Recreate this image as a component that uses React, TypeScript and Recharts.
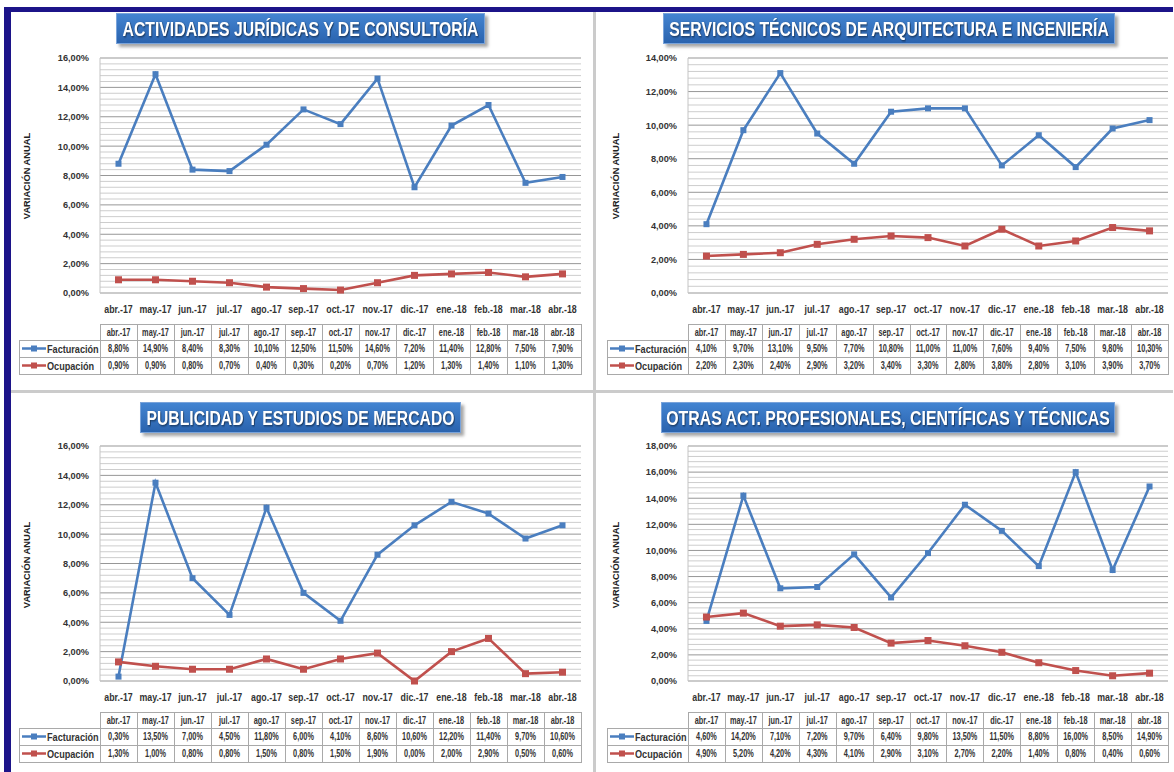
import { useLayoutEffect, useRef, useState } from 'react';
import { LineChart, Line, XAxis, YAxis, CartesianGrid, ReferenceLine } from 'recharts';

const months = ['abr.-17', 'may.-17', 'jun.-17', 'jul.-17', 'ago.-17', 'sep.-17', 'oct.-17', 'nov.-17', 'dic.-17', 'ene.-18', 'feb.-18', 'mar.-18', 'abr.-18'];

const juridicasFacturacion = [8.8, 14.9, 8.4, 8.3, 10.1, 12.5, 11.5, 14.6, 7.2, 11.4, 12.8, 7.5, 7.9];
const juridicasOcupacion = [0.9, 0.9, 0.8, 0.7, 0.4, 0.3, 0.2, 0.7, 1.2, 1.3, 1.4, 1.1, 1.3];

const arquitecturaFacturacion = [4.1, 9.7, 13.1, 9.5, 7.7, 10.8, 11.0, 11.0, 7.6, 9.4, 7.5, 9.8, 10.3];
const arquitecturaOcupacion = [2.2, 2.3, 2.4, 2.9, 3.2, 3.4, 3.3, 2.8, 3.8, 2.8, 3.1, 3.9, 3.7];

const publicidadFacturacion = [0.3, 13.5, 7.0, 4.5, 11.8, 6.0, 4.1, 8.6, 10.6, 12.2, 11.4, 9.7, 10.6];
const publicidadOcupacion = [1.3, 1.0, 0.8, 0.8, 1.5, 0.8, 1.5, 1.9, 0.0, 2.0, 2.9, 0.5, 0.6];

const otrasFacturacion = [4.6, 14.2, 7.1, 7.2, 9.7, 6.4, 9.8, 13.5, 11.5, 8.8, 16.0, 8.5, 14.9];
const otrasOcupacion = [4.9, 5.2, 4.2, 4.3, 4.1, 2.9, 3.1, 2.7, 2.2, 1.4, 0.8, 0.4, 0.6];

const ticks16 = [0, 2, 4, 6, 8, 10, 12, 14, 16];
const ticks14 = [0, 2, 4, 6, 8, 10, 12, 14];
const ticks18 = [0, 2, 4, 6, 8, 10, 12, 14, 16, 18];

const BLUE = '#4a7ebf';
const RED = '#c0504d';
const FONT = "'Liberation Sans', Arial, sans-serif";
const TEXT = '#333333';

const pct = (v: number) => v.toFixed(2).replace('.', ',') + '%';

type Box = { x: number; y: number; w: number; h: number };

type PanelProps = {
  title: string;
  fact: number[];
  ocup: number[];
  ticks: number[];
  panelLeft: number;
  tableLeft: number;
  plotLeft: number;
  plotRight: number;
  plotTop: number;
  plotBottom: number;
  tableTop: number;
  titleBox: Box;
  titleW: number;
  axisTitle: { x: number; y: number };
};

// condensed look: Liberation Sans Bold squeezed horizontally
const XTick = (p: any) => (
  <g transform={`translate(${p.x},${p.y}) scale(0.8,1)`}>
    <text x={0} y={0} dy="0.71em" textAnchor="middle" fontFamily={FONT} fontWeight="bold" fontSize={11} fill={TEXT}>
      {p.payload.value}
    </text>
  </g>
);

const YTick = (p: any) => (
  <g transform={`translate(${p.x},${p.y}) scale(0.97,1)`}>
    <text x={0} y={0} dy="0.355em" textAnchor="end" fontFamily={FONT} fontWeight="bold" fontSize={9.5} fill={TEXT}>
      {pct(p.payload.value)}
    </text>
  </g>
);

const square = (color: string, size: number) => (p: any) => (
  <rect key={`sq-${p.index}`} x={p.cx - size / 2} y={p.cy - size / 2} width={size} height={size} fill={color} />
);

const TitleText = ({ text, w, h, target }: { text: string; w: number; h: number; target: number }) => {
  const ref = useRef<SVGTextElement>(null);
  const [sx, setSx] = useState(0.78);
  useLayoutEffect(() => {
    if (ref.current) {
      const natural = ref.current.getComputedTextLength();
      if (natural > 0) setSx(target / natural);
    }
  }, [text, target]);
  return (
    <svg width={w} height={h} style={{ display: 'block' }}>
      <g transform={`translate(${w / 2},${h / 2 + 7.5}) scale(${sx},1)`}>
        <text
          ref={ref}
          x={0}
          y={0}
          textAnchor="middle"
          fontFamily={FONT}
          fontWeight="bold"
          fontSize={20.5}
          fill="#ffffff"
          style={{ filter: 'drop-shadow(1px 1px 1px rgba(0,0,0,0.55))' }}
        >
          {text}
        </text>
      </g>
    </svg>
  );
};

const DataTable = ({ fact, ocup, tableLeft, plotLeft, plotRight }: { fact: number[]; ocup: number[]; tableLeft: number; plotLeft: number; plotRight: number }) => {
  const colW = (plotRight - plotLeft) / months.length;
  const ox = plotLeft - tableLeft;
  const W = plotRight - tableLeft + 1;
  const rows = [0, 16, 33, 50];
  const stroke = '#a9a9a9';
  const cellText = (label: string, i: number, top: number, h: number) => (
    <g key={`${top}-${i}`} transform={`translate(${ox + colW * i + colW / 2},${top + h / 2 + 3.8}) scale(0.7,1)`}>
      <text x={0} y={0} textAnchor="middle" fontFamily={FONT} fontWeight="bold" fontSize={10.5} fill={TEXT}>
        {label}
      </text>
    </g>
  );
  const legend = (color: string, label: string, top: number) => (
    <g>
      <line x1={3} y1={top + 8.5} x2={27} y2={top + 8.5} stroke={color} strokeWidth={2.5} />
      <rect x={12} y={top + 5.5} width={6} height={6} fill={color} />
      <g transform={`translate(28,${top + 12.5}) scale(0.83,1)`}>
        <text x={0} y={0} fontFamily={FONT} fontWeight="bold" fontSize={11} fill={TEXT}>
          {label}
        </text>
      </g>
    </g>
  );
  return (
    <svg width={W} height={52} style={{ position: 'absolute', left: tableLeft, top: 0 }}>
      <line x1={ox} y1={0.5} x2={W - 0.5} y2={0.5} stroke={stroke} />
      {rows.slice(1).map((y) => (
        <line key={y} x1={0} y1={y + 0.5} x2={W - 0.5} y2={y + 0.5} stroke={stroke} />
      ))}
      <line x1={0.5} y1={16} x2={0.5} y2={51} stroke={stroke} />
      {months.map((m, i) => (
        <line key={i} x1={Math.round(ox + colW * i) + 0.5} y1={0} x2={Math.round(ox + colW * i) + 0.5} y2={51} stroke={stroke} />
      ))}
      <line x1={W - 0.5} y1={0} x2={W - 0.5} y2={51} stroke={stroke} />
      {months.map((m, i) => cellText(m, i, 0, 16))}
      {fact.map((v, i) => cellText(pct(v), i, 16, 17))}
      {ocup.map((v, i) => cellText(pct(v), i, 33, 17))}
      {legend(BLUE, 'Facturación', 16)}
      {legend(RED, 'Ocupación', 33)}
    </svg>
  );
};

const Panel = (props: PanelProps) => {
  const { title, fact, ocup, ticks, panelLeft, tableLeft, plotLeft, plotRight, plotTop, plotBottom, tableTop, titleBox, titleW, axisTitle } = props;
  const yMax = ticks[ticks.length - 1];
  const colW = (plotRight - plotLeft) / months.length;
  const data = months.map((m, i) => ({ name: m, fact: fact[i], ocup: ocup[i] }));
  // minor gridlines every 0.4 points
  const minor: number[] = [];
  for (let k = 1; k * 0.4 < yMax - 0.01; k++) {
    const v = Math.round(k * 0.4 * 10) / 10;
    if (Math.abs(v / 2 - Math.round(v / 2)) > 0.01) minor.push(v);
  }
  const chartTop = plotTop - 8;
  const width = plotRight + 4 - panelLeft;
  const height = plotBottom - plotTop + 8 + 26;

  return (
    <>
      <div
        style={{
          position: 'absolute',
          left: titleBox.x,
          top: titleBox.y,
          width: titleBox.w,
          height: titleBox.h,
          background: 'linear-gradient(#4384d1, #2a63ae)',
          border: '1px solid #79a3da',
          boxShadow: '3px 3px 3px rgba(0,0,0,0.35)',
          boxSizing: 'border-box',
        }}
      >
        <TitleText text={title} w={titleBox.w - 2} h={titleBox.h - 2} target={titleW} />
      </div>

      <svg style={{ position: 'absolute', left: axisTitle.x - 8, top: axisTitle.y - 50 }} width={16} height={100}>
        <text transform="translate(11,50) rotate(-90)" textAnchor="middle" fontFamily={FONT} fontWeight="bold" fontSize={9.3} fill="#222">
          VARIACIÓN ANUAL
        </text>
      </svg>

      <div style={{ position: 'absolute', left: panelLeft, top: chartTop }}>
        <LineChart width={width} height={height} data={data} margin={{ top: 8, right: 4, bottom: 0, left: 0 }}>
          <CartesianGrid vertical={false} stroke="#979797" strokeWidth={1} />
          {minor.map((v) => (
            <ReferenceLine key={v} y={v} stroke="#cdcdcd" strokeWidth={1} />
          ))}
          <XAxis
            dataKey="name"
            height={26}
            axisLine={false}
            tickLine={false}
            tickSize={0}
            tickMargin={12}
            interval={0}
            padding={{ left: colW / 2, right: colW / 2 }}
            tick={<XTick />}
          />
          <YAxis
            width={plotLeft - panelLeft}
            domain={[0, yMax]}
            ticks={ticks}
            interval={0}
            axisLine={{ stroke: '#c4c4c4' }}
            tickLine={false}
            tickSize={0}
            tickMargin={11}
            tick={<YTick />}
          />
          <Line dataKey="fact" stroke={BLUE} strokeWidth={2.6} dot={square(BLUE, 6)} activeDot={false} isAnimationActive={false} />
          <Line dataKey="ocup" stroke={RED} strokeWidth={2.6} dot={square(RED, 7)} activeDot={false} isAnimationActive={false} />
        </LineChart>
      </div>

      <div style={{ position: 'absolute', left: 0, top: tableTop }}>
        <DataTable fact={fact} ocup={ocup} tableLeft={tableLeft} plotLeft={plotLeft} plotRight={plotRight} />
      </div>
    </>
  );
};

export default function App() {
  return (
    <div style={{ position: 'absolute', left: 0, top: 0, width: 1174, height: 772, background: '#ffffff', overflow: 'hidden' }}>
      {/* navy frame */}
      <div style={{ position: 'absolute', left: 4, top: 7, width: 1169, height: 5, background: '#1c1489' }} />
      <div style={{ position: 'absolute', left: 4, top: 7, width: 7, height: 765, background: '#1c1489' }} />
      {/* panel dividers */}
      <div style={{ position: 'absolute', left: 593, top: 12, width: 3, height: 760, background: '#cbcbcb' }} />
      <div style={{ position: 'absolute', left: 11, top: 390, width: 1162, height: 3, background: '#cbcbcb' }} />

      <Panel
        title="ACTIVIDADES JURÍDICAS Y DE CONSULTORÍA"
        fact={juridicasFacturacion}
        ocup={juridicasOcupacion}
        ticks={ticks16}
        panelLeft={11}
        tableLeft={19}
        plotLeft={100}
        plotRight={581}
        plotTop={58}
        plotBottom={293}
        tableTop={324}
        titleBox={{ x: 116, y: 13, w: 369, h: 31 }}
        titleW={356}
        axisTitle={{ x: 27, y: 176 }}
      />
      <Panel
        title="SERVICIOS TÉCNICOS DE ARQUITECTURA E INGENIERÍA"
        fact={arquitecturaFacturacion}
        ocup={arquitecturaOcupacion}
        ticks={ticks14}
        panelLeft={597}
        tableLeft={607}
        plotLeft={688}
        plotRight={1168}
        plotTop={58}
        plotBottom={293}
        tableTop={324}
        titleBox={{ x: 663, y: 13, w: 452, h: 31 }}
        titleW={440}
        axisTitle={{ x: 616, y: 176 }}
      />
      <Panel
        title="PUBLICIDAD Y ESTUDIOS DE MERCADO"
        fact={publicidadFacturacion}
        ocup={publicidadOcupacion}
        ticks={ticks16}
        panelLeft={11}
        tableLeft={19}
        plotLeft={100}
        plotRight={581}
        plotTop={446}
        plotBottom={681}
        tableTop={712}
        titleBox={{ x: 140, y: 402, w: 321, h: 31 }}
        titleW={308}
        axisTitle={{ x: 27, y: 565 }}
      />
      <Panel
        title="OTRAS ACT. PROFESIONALES, CIENTÍFICAS Y TÉCNICAS"
        fact={otrasFacturacion}
        ocup={otrasOcupacion}
        ticks={ticks18}
        panelLeft={597}
        tableLeft={607}
        plotLeft={688}
        plotRight={1168}
        plotTop={446}
        plotBottom={681}
        tableTop={712}
        titleBox={{ x: 661, y: 402, w: 454, h: 31 }}
        titleW={444}
        axisTitle={{ x: 616, y: 565 }}
      />
    </div>
  );
}
